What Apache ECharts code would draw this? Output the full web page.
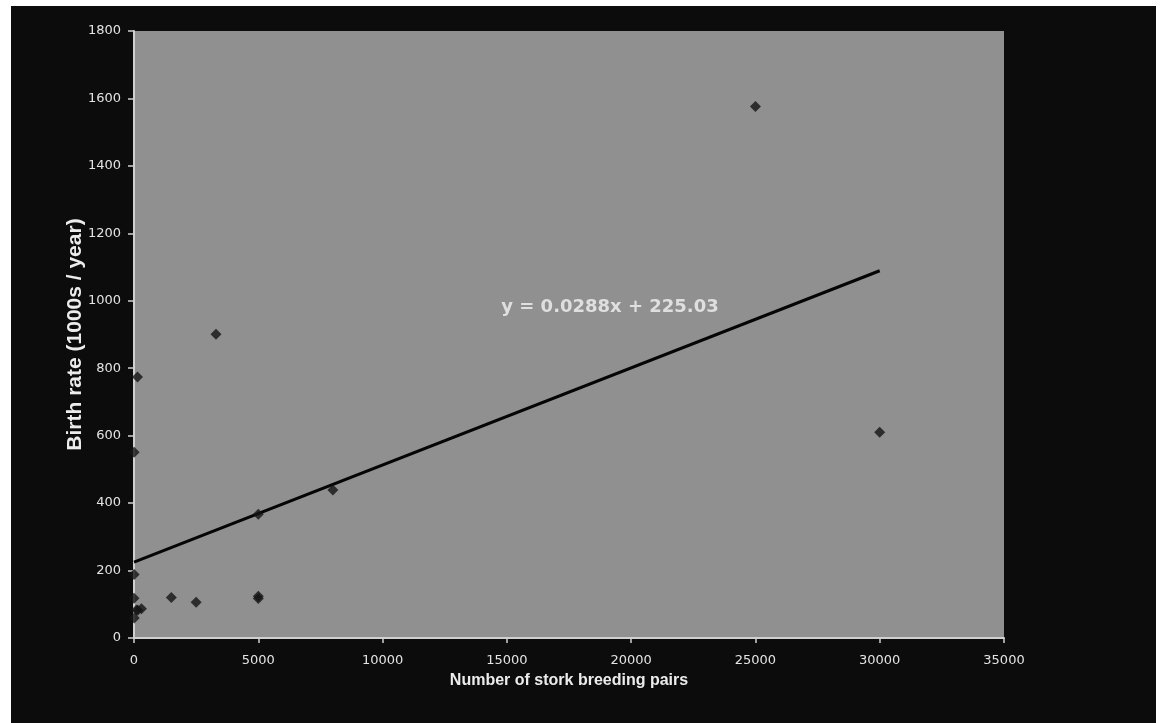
<!DOCTYPE html>
<html>
<head>
<meta charset="utf-8">
<script src="https://cdn.jsdelivr.net/npm/echarts@6/dist/echarts.min.js"></script>
<style>
  html, body { margin: 0; padding: 0; background: #ffffff; }
  #chart { position: absolute; left: 11px; top: 6px; width: 1145px; height: 717px; background: #0c0c0c; }
</style>
</head>
<body>
<div id="chart"></div>
<script>
// Stork breeding pairs vs birth rate (1000s / year), one point per country
const countries = ['Albania','Austria','Belgium','Bulgaria','Denmark','France','Germany','Greece','Holland','Hungary','Italy','Poland','Portugal','Romania','Spain','Switzerland','Turkey'];
const storkPairs = [100, 300, 1, 5000, 9, 140, 3300, 2500, 4, 5000, 5, 30000, 1500, 5000, 8000, 150, 25000];
const birthRate = [83, 87, 118, 117, 59, 774, 901, 106, 188, 124, 551, 610, 120, 367, 439, 82, 1576];

// Linear trendline endpoints (y = 0.0288x + 225.03)
const trendLine = [[0, 225.03], [30000, 1089.03]];
const equationText = 'y = 0.0288x + 225.03';
const equationPos = [19150, 980];

const xTicks = { min: 0, max: 35000, interval: 5000 };
const yTicks = { min: 0, max: 1800, interval: 200 };

const points = storkPairs.map((x, i) => [x, birthRate[i]]);

const chart = echarts.init(document.getElementById('chart'), null, { renderer: 'canvas' });
const axisText = { color: '#e4e4e4', fontFamily: 'DejaVu Sans, sans-serif', fontSize: 13, formatter: v => String(v) };

chart.setOption({
  backgroundColor: '#0c0c0c',
  animation: false,
  grid: {
    left: 123, top: 25, width: 870, height: 607,
    show: true, backgroundColor: '#909090', borderWidth: 0
  },
  xAxis: {
    type: 'value', min: xTicks.min, max: xTicks.max, interval: xTicks.interval,
    name: 'Number of stork breeding pairs', nameLocation: 'middle', nameGap: 35,
    nameMoveOverlap: false,
    nameTextStyle: { color: '#ececec', fontFamily: 'Liberation Sans, Arial, sans-serif', fontSize: 16, fontWeight: 'bold' },
    axisLine: { show: true, onZero: false, lineStyle: { color: '#d0d0d0', width: 2 } },
    axisTick: { show: true, inside: false, length: 5, lineStyle: { color: '#d0d0d0', width: 1.5 } },
    axisLabel: Object.assign({ margin: 16 }, axisText),
    splitLine: { show: false }
  },
  yAxis: {
    type: 'value', min: yTicks.min, max: yTicks.max, interval: yTicks.interval,
    name: 'Birth rate (1000s / year)', nameLocation: 'middle', nameGap: 48, nameRotate: 90,
    nameMoveOverlap: false,
    nameTextStyle: { color: '#ececec', fontFamily: 'Liberation Sans, Arial, sans-serif', fontSize: 21, fontWeight: 'bold' },
    axisLine: { show: true, onZero: false, lineStyle: { color: '#d0d0d0', width: 2 } },
    axisTick: { show: true, inside: false, length: 6, lineStyle: { color: '#d0d0d0', width: 1.5 } },
    axisLabel: Object.assign({ margin: 13 }, axisText),
    splitLine: { show: false }
  },
  series: [
    {
      type: 'line', data: trendLine, symbol: 'none', silent: true,
      lineStyle: { color: '#050505', width: 3 }, z: 3
    },
    {
      type: 'scatter', data: points, symbol: 'diamond', symbolSize: 11,
      itemStyle: { color: '#141414' }, z: 4
    },
    {
      type: 'scatter', data: [equationPos], symbolSize: 0, silent: true,
      label: {
        show: true, position: 'inside', formatter: equationText,
        color: '#f2f2f2', fontFamily: 'DejaVu Sans, sans-serif', fontSize: 18, fontWeight: 'bold'
      }, z: 5
    }
  ]
});
</script>
</body>
</html>
